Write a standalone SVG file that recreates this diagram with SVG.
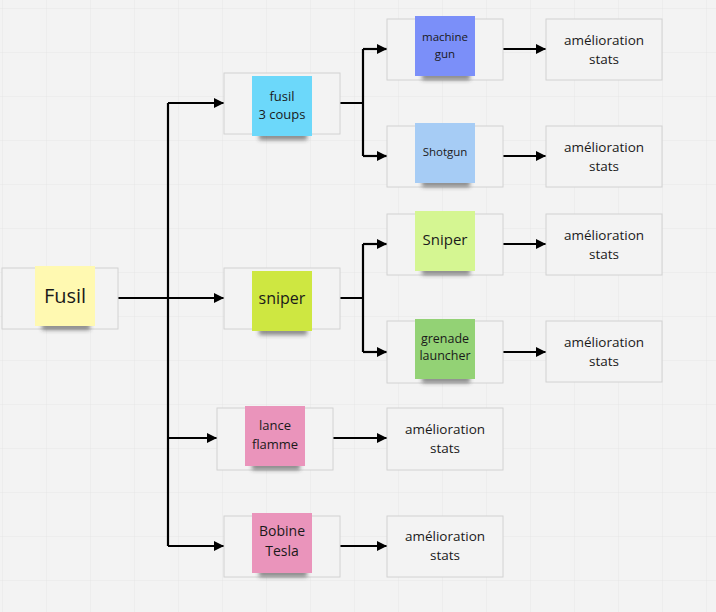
<svg xmlns="http://www.w3.org/2000/svg" width="716" height="612" viewBox="0 0 716 612">
<defs>
<pattern id="grid" width="44" height="44" patternUnits="userSpaceOnUse" x="3" y="9">
<path d="M44 0V44M0 44H44" fill="none" stroke="#e6e6e6" stroke-width="1"/>
</pattern>
<filter id="blur" x="-30%" y="-100%" width="160%" height="300%"><feGaussianBlur stdDeviation="2"/></filter>
<marker id="arr" viewBox="0 0 10 10" refX="10" refY="5" markerWidth="10" markerHeight="10" markerUnits="userSpaceOnUse" orient="auto">
<path d="M0 0L10 5L0 10Z" fill="#000"/>
</marker>
</defs>
<style>
.frame{fill:#f3f3f3;stroke:#d2d2d2;stroke-width:1}
.sh{fill:#333;opacity:0.55}
.t{font-family:"Open Sans","Noto Sans",sans-serif;fill:#1a1a1a;text-anchor:middle}
.c{fill:none;stroke:#000;stroke-width:2.2}
.a{fill:none;stroke:#000;stroke-width:2.2;marker-end:url(#arr)}
</style>
<rect width="716" height="612" fill="#f3f3f3"/>
<rect width="716" height="612" fill="url(#grid)"/>

<g id="connectors">
<path class="c" d="M118 298H168M168 103V546"/>
<path class="a" d="M168 103H224"/>
<path class="a" d="M168 298H224"/>
<path class="a" d="M168 438H217"/>
<path class="a" d="M168 546H224"/>
<path class="c" d="M340 103H363M363 49V156"/>
<path class="a" d="M363 49H387"/>
<path class="a" d="M363 156H387"/>
<path class="c" d="M340 298H363M363 244V352"/>
<path class="a" d="M363 244H387"/>
<path class="a" d="M363 352H387"/>
<path class="a" d="M503 49H546"/>
<path class="a" d="M503 156H546"/>
<path class="a" d="M503 244H546"/>
<path class="a" d="M503 352H546"/>
<path class="a" d="M333 438H387"/>
<path class="a" d="M340 546H387"/>
</g>

<g id="fusil">
<rect class="frame" x="2" y="268" width="116" height="61"/>
<rect class="sh" filter="url(#blur)" x="42" y="323" width="48" height="7"/>
<rect x="35" y="266" width="60" height="60" fill="#fff9b1"/>
<text class="t" x="65" y="303" font-size="20">Fusil</text>
</g>

<g id="fusil3coups">
<rect class="frame" x="224" y="73" width="116" height="61"/>
<rect class="sh" filter="url(#blur)" x="259" y="133" width="48" height="7"/>
<rect x="252" y="76" width="60" height="60" fill="#6cd8fa"/>
<text class="t" x="282" y="101" font-size="13">fusil</text>
<text class="t" x="282" y="119" font-size="13">3 coups</text>
</g>

<g id="sniper">
<rect class="frame" x="224" y="268" width="116" height="61"/>
<rect class="sh" filter="url(#blur)" x="259" y="328" width="48" height="7"/>
<rect x="252" y="271" width="60" height="60" fill="#cee741"/>
<text class="t" x="282" y="304" font-size="16">sniper</text>
</g>

<g id="lanceflamme">
<rect class="frame" x="217" y="408" width="116" height="62"/>
<rect class="sh" filter="url(#blur)" x="252" y="463" width="48" height="7"/>
<rect x="245" y="406" width="60" height="60" fill="#ea94bb"/>
<text class="t" x="275" y="430" font-size="13">lance</text>
<text class="t" x="275" y="449" font-size="13">flamme</text>
</g>

<g id="bobinetesla">
<rect class="frame" x="224" y="516" width="116" height="61"/>
<rect class="sh" filter="url(#blur)" x="259" y="570" width="48" height="7"/>
<rect x="252" y="513" width="60" height="60" fill="#ea94bb"/>
<text class="t" x="282" y="536" font-size="14">Bobine</text>
<text class="t" x="282" y="556" font-size="14">Tesla</text>
</g>

<g id="machinegun">
<rect class="frame" x="387" y="19" width="116" height="61"/>
<rect class="sh" filter="url(#blur)" x="422" y="73" width="48" height="7"/>
<rect x="415" y="16" width="60" height="60" fill="#7b8ff9"/>
<text class="t" x="445" y="41" font-size="11.5">machine</text>
<text class="t" x="445" y="58" font-size="11.5">gun</text>
</g>

<g id="shotgun">
<rect class="frame" x="387" y="126" width="116" height="61"/>
<rect class="sh" filter="url(#blur)" x="422" y="180" width="48" height="7"/>
<rect x="415" y="123" width="60" height="60" fill="#a6ccf5"/>
<text class="t" x="445" y="156" font-size="11.5">Shotgun</text>
</g>

<g id="sniper2">
<rect class="frame" x="387" y="214" width="116" height="61"/>
<rect class="sh" filter="url(#blur)" x="422" y="268" width="48" height="7"/>
<rect x="415" y="211" width="60" height="60" fill="#d5f692"/>
<text class="t" x="445" y="245" font-size="15">Sniper</text>
</g>

<g id="grenadelauncher">
<rect class="frame" x="387" y="321" width="116" height="62"/>
<rect class="sh" filter="url(#blur)" x="422" y="376" width="48" height="7"/>
<rect x="415" y="319" width="60" height="60" fill="#93d275"/>
<text class="t" x="445" y="343" font-size="12.5">grenade</text>
<text class="t" x="445" y="360" font-size="12.5">launcher</text>
</g>

<g id="stats1">
<rect class="frame" x="546" y="19" width="116" height="61"/>
<text class="t" x="604" y="45" font-size="13.5">amélioration</text>
<text class="t" x="604" y="64" font-size="13.5">stats</text>
</g>
<g id="stats2">
<rect class="frame" x="546" y="126" width="116" height="61"/>
<text class="t" x="604" y="152" font-size="13.5">amélioration</text>
<text class="t" x="604" y="171" font-size="13.5">stats</text>
</g>
<g id="stats3">
<rect class="frame" x="546" y="214" width="116" height="61"/>
<text class="t" x="604" y="240" font-size="13.5">amélioration</text>
<text class="t" x="604" y="259" font-size="13.5">stats</text>
</g>
<g id="stats4">
<rect class="frame" x="546" y="321" width="116" height="61"/>
<text class="t" x="604" y="347" font-size="13.5">amélioration</text>
<text class="t" x="604" y="366" font-size="13.5">stats</text>
</g>
<g id="stats5">
<rect class="frame" x="387" y="408" width="116" height="62"/>
<text class="t" x="445" y="434" font-size="13.5">amélioration</text>
<text class="t" x="445" y="453" font-size="13.5">stats</text>
</g>
<g id="stats6">
<rect class="frame" x="387" y="516" width="116" height="61"/>
<text class="t" x="445" y="541" font-size="13.5">amélioration</text>
<text class="t" x="445" y="560" font-size="13.5">stats</text>
</g>
</svg>
